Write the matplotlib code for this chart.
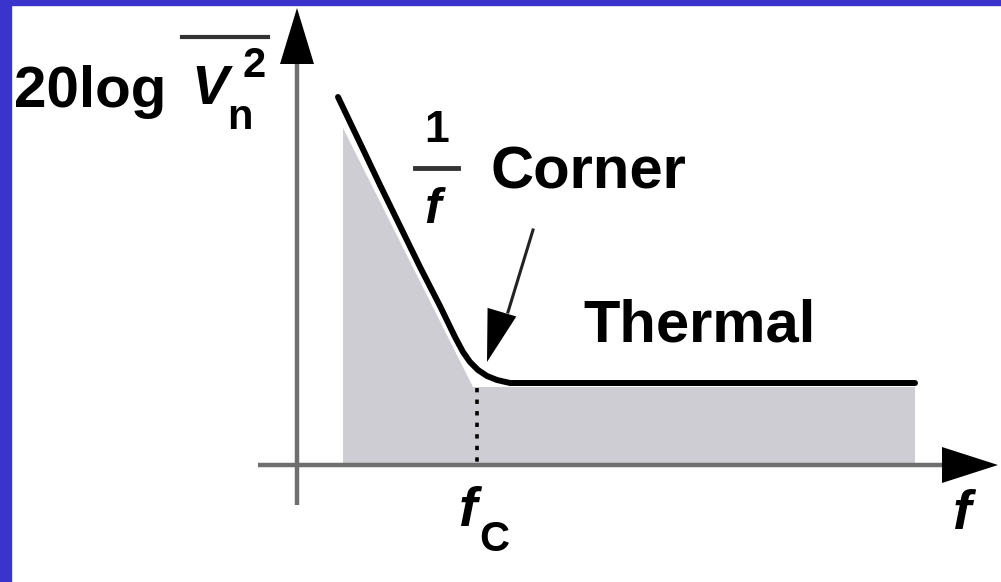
import matplotlib
matplotlib.use("Agg")
import matplotlib.pyplot as plt
from matplotlib.patches import Rectangle

# noise spectrum sketch (pixel units, y grows downward)
curve_x = [338, 360, 380, 400, 420, 440, 455, 463, 470, 478, 487, 497, 510, 915]
curve_y = [97, 143, 185, 226, 267, 306, 337, 352, 362, 370, 376, 380, 383, 383]

# shaded area sits a bit below the curve
fill_x = [343, 343, 473, 915, 915]
fill_top = [465, 128, 387, 387, 465]

corner_x = 477
axis_y = 465
axis_x = 297

font = ["Liberation Sans", "DejaVu Sans"]
gray_fill = "#cdcdd3"
axis_gray = "#6e6e6e"
border = "#3a33cc"


def head(ax, tip, direction, length, half_width):
    # filled triangle arrow head
    tx, ty = tip
    dx, dy = direction
    n = (dx * dx + dy * dy) ** 0.5
    dx, dy = dx / n, dy / n
    bx, by = tx - dx * length, ty - dy * length
    px, py = -dy * half_width, dx * half_width
    ax.fill([tx, bx + px, bx - px], [ty, by + py, by - py], color="black", lw=0, zorder=6)


fig = plt.figure(figsize=(10.01, 5.82), dpi=100)
ax = fig.add_axes([0, 0, 1, 1])
ax.set_xlim(0, 1001)
ax.set_ylim(582, 0)
ax.axis("off")

# blue frame on left and top
ax.add_patch(Rectangle((0, 0), 11, 582, color=border, zorder=10))
ax.add_patch(Rectangle((0, 0), 1001, 5, color=border, zorder=10))

ax.fill(fill_x, fill_top, color=gray_fill, lw=0, zorder=1)

# axes
ax.plot([258, 950], [axis_y, axis_y], color=axis_gray, lw=3.2, zorder=3, solid_capstyle="butt")
head(ax, (998, axis_y), (1, 0), 56, 18)
ax.plot([axis_x, axis_x], [505, 55], color=axis_gray, lw=3.2, zorder=3, solid_capstyle="butt")
head(ax, (axis_x, 8), (0, -1), 56, 17)

ax.plot(curve_x, curve_y, color="black", lw=4.3, zorder=5, solid_capstyle="round",
        solid_joinstyle="round")
ax.plot([corner_x, corner_x], [388, axis_y], color="black", lw=2.6, ls=(0, (1.2, 2.0)), zorder=4)

# pointer to the corner
ax.plot([533, 508], [230, 312], color="#222222", lw=2.2, zorder=5)
head(ax, (487, 362), (-0.3, 1), 52, 15)

txt = dict(family=font, weight="bold", color="black", zorder=7)
ax.text(588, 173, "Corner", fontsize=43, ha="center", va="center", **txt)
ax.text(700, 326, "Thermal", fontsize=43, ha="center", va="center", **txt)

# 1/f
ax.text(437, 131, "1", fontsize=32, ha="center", va="center", **txt)
ax.plot([415, 458], [168, 168], color="#333333", lw=3.5, zorder=7)
ax.text(432, 210, "f", fontsize=36, ha="center", va="center", style="italic", **txt)

# y label 20log Vn^2
ax.text(14, 92, "20log", fontsize=42, ha="left", va="center", **txt)
ax.text(210, 90, "V", fontsize=40, ha="center", va="center", style="italic", **txt)
ax.text(240, 118, "n", fontsize=30, ha="center", va="center", **txt)
ax.text(254, 66, "2", fontsize=30, ha="center", va="center", **txt)
ax.plot([182, 268], [37, 37], color="#333333", lw=3, zorder=7)

# x labels
ax.text(468, 512, "f", fontsize=40, ha="center", va="center", style="italic", **txt)
ax.text(494, 540, "C", fontsize=30, ha="center", va="center", **txt)
ax.text(962, 515, "f", fontsize=40, ha="center", va="center", style="italic", **txt)

fig.savefig("out.png", dpi=100)
